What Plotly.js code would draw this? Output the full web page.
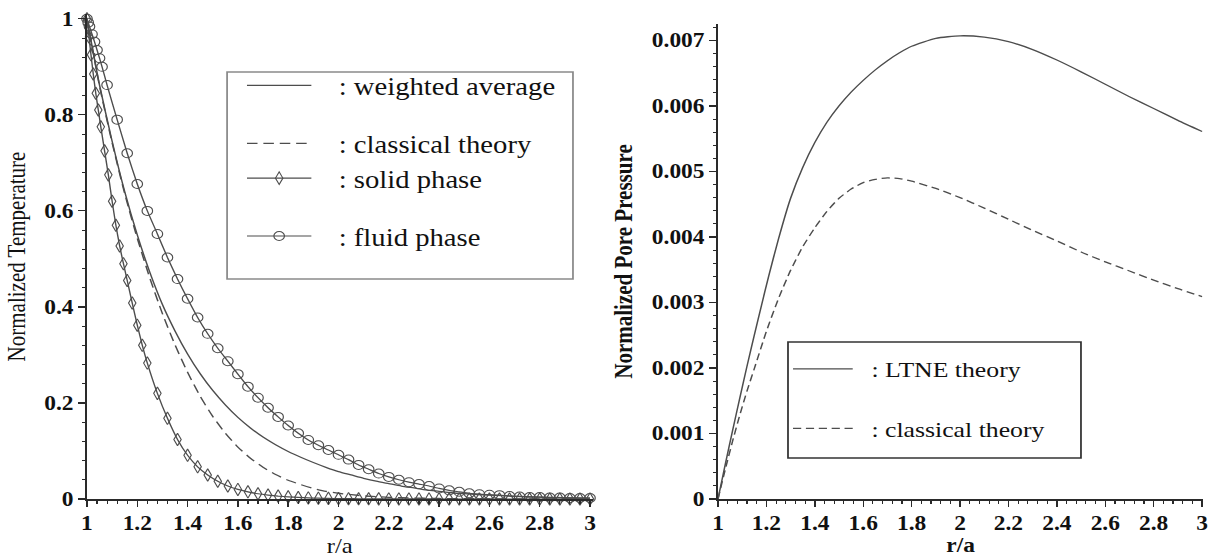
<!DOCTYPE html>
<html>
<head>
<meta charset="utf-8">
<script src="https://cdn.plot.ly/plotly-3.0.1.min.js"></script>
<style>
html, body { margin: 0; padding: 0; background: #ffffff; overflow: hidden; width: 1215px; height: 560px; }
#chart { width: 1038px; height: 560px; transform: scale(1.17052, 1); transform-origin: 0 0; }
</style>
</head>
<body>
<div id="chart"></div>
<script>
// ---------- Left panel: Normalized Temperature vs r/a ----------
const weightedX = [1.00,1.05,1.10,1.15,1.20,1.25,1.30,1.35,1.40,1.45,1.50,1.55,1.60,1.65,1.70,1.75,1.80,1.85,1.90,1.95,2.00,2.05,2.10,2.15,2.20,2.25,2.30,2.35,2.40,2.45,2.50,2.60,2.70,2.80,2.90,3.00];
const weightedY = [1.000,0.862,0.745,0.640,0.550,0.472,0.405,0.350,0.302,0.261,0.226,0.196,0.170,0.148,0.129,0.113,0.099,0.087,0.076,0.066,0.057,0.050,0.043,0.037,0.032,0.027,0.023,0.019,0.016,0.013,0.011,0.008,0.006,0.004,0.003,0.002];

const classicalTX = [1.00,1.05,1.10,1.15,1.20,1.25,1.30,1.35,1.40,1.45,1.50,1.55,1.60,1.65,1.70,1.75,1.80,1.85,1.90,1.95,2.00,2.10,2.20,2.30,2.40,2.60,2.80,3.00];
const classicalTY = [1.000,0.860,0.742,0.636,0.543,0.460,0.386,0.321,0.264,0.214,0.172,0.137,0.108,0.085,0.066,0.051,0.039,0.030,0.022,0.016,0.012,0.0065,0.0035,0.002,0.001,0.0004,0.0002,0.0001];

const solidPhaseX = [1.000,1.008,1.016,1.025,1.035,1.045,1.055,1.070,1.085,1.100,1.115,1.130,1.145,1.160,1.180,1.200,1.220,1.240,
  1.28,1.32,1.36,1.40,1.44,1.48,1.52,1.56,1.60,1.64,1.68,1.72,1.76,1.80,1.84,1.88,1.92,1.96,2.00,2.04,2.08,2.12,2.16,2.20,2.24,2.28,2.32,2.36,2.40,
  2.44,2.48,2.52,2.56,2.60,2.64,2.68,2.72,2.76,2.80,2.84,2.88,2.92,2.96,3.00];
const solidPhaseY = [1.000,0.962,0.925,0.885,0.845,0.810,0.775,0.725,0.675,0.620,0.570,0.527,0.490,0.455,0.408,0.362,0.320,0.283,
  0.220,0.168,0.124,0.091,0.067,0.050,0.037,0.027,0.020,0.015,0.011,0.0082,0.006,0.0044,0.0032,0.0023,0.0017,0.0013,0.0009,0.0007,0.0005,0.0004,0.0003,0.0002,0.0002,0.0001,0.0001,0.0001,0.0001,
  0,0,0,0,0,0,0,0,0,0,0,0,0,0,0];

const fluidPhaseX = [1.000,1.005,1.010,1.020,1.030,1.040,1.050,1.060,
  1.08,1.12,1.16,1.20,1.24,1.28,1.32,1.36,1.40,1.44,1.48,1.52,1.56,1.60,1.64,1.68,1.72,1.76,1.80,1.84,1.88,1.92,1.96,2.00,2.04,2.08,2.12,2.16,2.20,2.24,2.28,2.32,2.36,2.40,2.44,2.48,2.52,2.56,2.60,2.64,2.68,2.72,2.76,2.80,2.84,2.88,2.92,2.96,3.00];
const fluidPhaseY = [1.000,0.992,0.984,0.968,0.952,0.935,0.918,0.900,
  0.862,0.790,0.720,0.656,0.600,0.552,0.503,0.458,0.417,0.378,0.344,0.314,0.287,0.260,0.234,0.211,0.190,0.171,0.153,0.137,0.123,0.112,0.102,0.092,0.082,0.071,0.062,0.053,0.046,0.040,0.035,0.031,0.027,0.022,0.018,0.015,0.012,0.010,0.009,0.008,0.006,0.005,0.004,0.004,0.003,0.003,0.002,0.002,0.002];

// ---------- Right panel: Normalized Pore Pressure vs r/a ----------
const ltneX = [1.00,1.03,1.06,1.09,1.12,1.15,1.18,1.21,1.25,1.30,1.35,1.40,1.45,1.50,1.55,1.60,1.65,1.70,1.75,1.80,1.90,2.00,2.10,2.20,2.30,2.40,2.50,2.60,2.70,2.80,2.90,3.00];
const ltneY = [0,0.00053,0.00104,0.00154,0.00203,0.00250,0.00296,0.00341,0.00397,0.00459,0.00506,0.00544,0.00575,0.00600,0.00621,0.00639,0.00655,0.00669,0.00681,0.00691,0.00703,0.00707,0.00705,0.00698,0.00686,0.00670,0.00652,0.00633,0.00614,0.00596,0.00578,0.00561];

const classicalPX = [1.00,1.03,1.06,1.09,1.12,1.15,1.20,1.25,1.30,1.35,1.40,1.45,1.50,1.55,1.60,1.65,1.70,1.75,1.80,1.90,2.00,2.10,2.20,2.30,2.40,2.50,2.60,2.70,2.80,2.90,3.00];
const classicalPY = [0,0.00045,0.00088,0.00128,0.00165,0.00199,0.00256,0.00306,0.00349,0.00385,0.00414,0.00439,0.00459,0.00473,0.00483,0.00488,0.00490,0.00489,0.00485,0.00474,0.00460,0.00444,0.00427,0.00410,0.00394,0.00377,0.00362,0.00348,0.00334,0.00321,0.00309];

// ---------- Tick labels ----------
const tempTickVals = [0,0.2,0.4,0.6,0.8,1];
const tempTickText = ["0","0.2","0.4","0.6","0.8","1"];
const rTickVals = [1,1.2,1.4,1.6,1.8,2,2.2,2.4,2.6,2.8,3];
const rTickText = ["1","1.2","1.4","1.6","1.8","2","2.2","2.4","2.6","2.8","3"];
const presTickVals = [0,0.001,0.002,0.003,0.004,0.005,0.006,0.007];
const presTickText = ["0","0.001","0.002","0.003","0.004","0.005","0.006","0.007"];

const seriesNames = [": weighted average", ": classical theory", ": solid phase", ": fluid phase", ": LTNE theory", ": classical theory"];

const curveColor = "#4d4d4d";
const axisColor = "#2a2a2a";
const serif = "Liberation Serif, Times New Roman, serif";
const gapL = "\u00a0\u00a0\u00a0";
const gapR = "\u00a0\u00a0";

const traces = [
  { x: weightedX, y: weightedY, type: "scatter", mode: "lines", name: gapL + seriesNames[0],
    line: { color: curveColor, width: 1.3, shape: "spline", smoothing: 0.6 },
    xaxis: "x", yaxis: "y", legend: "legend", legendgroup: "a" },
  { x: classicalTX, y: classicalTY, type: "scatter", mode: "lines", name: gapL + seriesNames[1],
    line: { color: curveColor, width: 1.3, dash: "9px,5px", shape: "spline", smoothing: 0.6 },
    xaxis: "x", yaxis: "y", legend: "legend", legendgroup: "b" },
  { x: solidPhaseX, y: solidPhaseY, type: "scatter", mode: "lines+markers", name: gapL + seriesNames[2],
    line: { color: curveColor, width: 1.2, shape: "spline", smoothing: 0.5 },
    marker: { symbol: "diamond-tall-open", size: 9, color: curveColor, line: { width: 1, color: curveColor } },
    cliponaxis: false, xaxis: "x", yaxis: "y", legend: "legend", legendgroup: "b" },
  { x: fluidPhaseX, y: fluidPhaseY, type: "scatter", mode: "lines+markers", name: gapL + seriesNames[3],
    line: { color: curveColor, width: 1.2, shape: "spline", smoothing: 0.5 },
    marker: { symbol: "circle-open", size: 9, color: curveColor, line: { width: 1, color: curveColor } },
    cliponaxis: false, xaxis: "x", yaxis: "y", legend: "legend", legendgroup: "c" },
  { x: ltneX, y: ltneY, type: "scatter", mode: "lines", name: gapR + seriesNames[4],
    line: { color: curveColor, width: 1.3, shape: "spline", smoothing: 0.6 },
    xaxis: "x2", yaxis: "y2", legend: "legend2", legendgroup: "d" },
  { x: classicalPX, y: classicalPY, type: "scatter", mode: "lines", name: gapR + seriesNames[5],
    line: { color: curveColor, width: 1.3, dash: "7px,4px", shape: "spline", smoothing: 0.6 },
    xaxis: "x2", yaxis: "y2", legend: "legend2", legendgroup: "e" }
];

const W = 1038, H = 560;
const tickFont = { family: serif, size: 20, color: "#111", weight: "bold" };

function xAx(domain, range, title, bold, standoff) {
  return {
    domain: domain, range: range, tickmode: "array", tickvals: rTickVals, ticktext: rTickText,
    ticks: "outside", ticklen: 6, tickwidth: 1.2, tickcolor: axisColor,
    minor: { dtick: 0.04, tick0: 1, ticks: "outside", ticklen: 3, tickwidth: 1, tickcolor: axisColor },
    showline: true, linecolor: axisColor, linewidth: 1.5, showgrid: false, zeroline: false,
    tickfont: tickFont, automargin: false,
    title: { text: title, font: { family: serif, size: bold ? 20 : 21, color: "#111", weight: bold ? "bold" : "normal" }, standoff: standoff }
  };
}
function yAx(domain, range, vals, text, minorStep, title, bold, anchor) {
  return {
    domain: domain, range: range, tickmode: "array", tickvals: vals, ticktext: text,
    ticks: "outside", ticklen: 6, tickwidth: 1.2, tickcolor: axisColor,
    minor: { dtick: minorStep, tick0: 0, ticks: "outside", ticklen: 3, tickwidth: 1, tickcolor: axisColor },
    showline: true, linecolor: axisColor, linewidth: 1.5, showgrid: false, zeroline: false,
    tickfont: tickFont, automargin: false, anchor: anchor,
    title: { text: title, font: { family: serif, size: 21, color: "#111", weight: bold ? "bold" : "normal" }, standoff: 10 }
  };
}

const layout = {
  width: W, height: H,
  margin: { l: 0, r: 0, t: 0, b: 0, pad: 0 },
  paper_bgcolor: "#ffffff", plot_bgcolor: "#ffffff",
  font: { family: serif, color: "#111" },
  showlegend: true,
  xaxis: Object.assign(xAx([74.3 / W, 506.2 / W], [1, 3.01], "r/a", false, 0), { anchor: "y" }),
  yaxis: yAx([61 / H, 546 / H], [0, 1.01], tempTickVals, tempTickText, 0.04, "Normalized Temperature", false, "x"),
  xaxis2: Object.assign(xAx([613.4 / W, 1028 / W], [1, 3.005], "r/a", true, 2), { anchor: "y2" }),
  yaxis2: yAx([61 / H, 536 / H], [0, 0.00725], presTickVals, presTickText, 0.0002, "Normalized Pore Pressure", true, "x2"),
  legend: {
    x: 206 / W, y: 1 - 63 / H, xanchor: "left", yanchor: "top",
    bgcolor: "rgba(0,0,0,0)", borderwidth: 0, itemwidth: 55,
    font: { family: serif, size: 24.5, color: "#111" },
    tracegroupgap: 23, traceorder: "grouped"
  },
  legend2: {
    x: 672.5 / W, y: 1 - 348 / H, xanchor: "left", yanchor: "top",
    bgcolor: "rgba(0,0,0,0)", borderwidth: 0, itemwidth: 51,
    font: { family: serif, size: 22, color: "#111" },
    tracegroupgap: 28, traceorder: "grouped"
  },
  shapes: [
    { type: "rect", xref: "paper", yref: "paper", x0: 194 / W, x1: 489.5 / W, y0: 1 - 279 / H, y1: 1 - 72 / H,
      line: { color: "#8a8a8a", width: 1.5 }, fillcolor: "rgba(0,0,0,0)", layer: "below" },
    { type: "rect", xref: "paper", yref: "paper", x0: 673.2 / W, x1: 923.5 / W, y0: 1 - 458 / H, y1: 1 - 342 / H,
      line: { color: "#333333", width: 1.5 }, fillcolor: "rgba(0,0,0,0)", layer: "below" }
  ]
};

Plotly.newPlot("chart", traces, layout, { staticPlot: true, displayModeBar: false });
</script>
</body>
</html>
